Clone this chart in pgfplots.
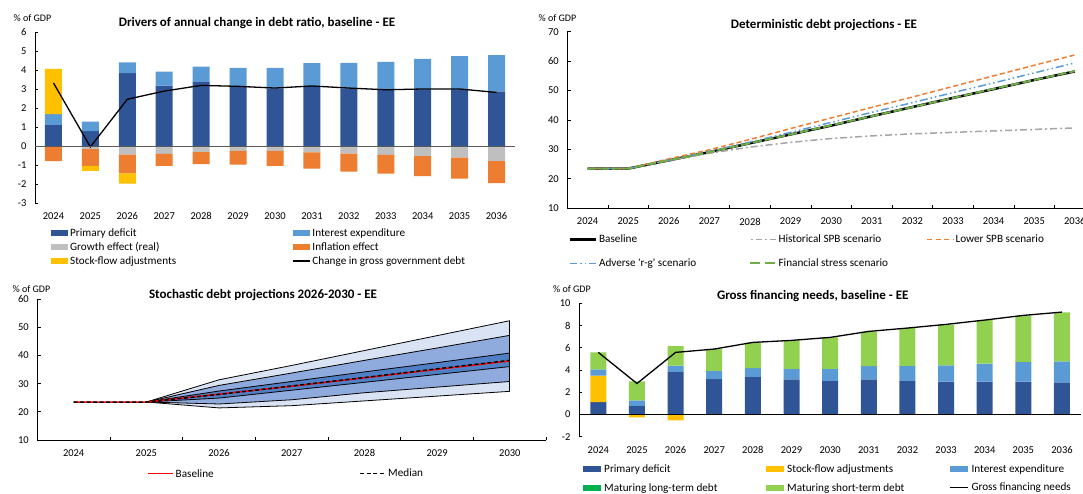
\documentclass[border=0pt]{standalone}
\usepackage{pgfplots}
\pgfplotsset{compat=1.18}
\usepgfplotslibrary{fillbetween}
\usepackage{fontspec}
\setmainfont{Carlito}

\definecolor{cPrim}{HTML}{2F5597}
\definecolor{cInt}{HTML}{5B9BD5}
\definecolor{cGrow}{HTML}{BFBFBF}
\definecolor{cInfl}{HTML}{ED7D31}
\definecolor{cSfa}{HTML}{FFC000}
\definecolor{cLong}{HTML}{00B050}
\definecolor{cShort}{HTML}{92D050}
\definecolor{cHist}{HTML}{A5A5A5}
\definecolor{cFin}{HTML}{70AD47}
\definecolor{fanA}{HTML}{DAE3F3}
\definecolor{fanB}{HTML}{8FAADC}
\definecolor{fanC}{HTML}{4F7FC4}

\newcommand{\LE}[2]{\makebox[#1][l]{\vphantom{Ag(}#2}}
\newcommand{\tickfont}{\fontsize{10.5}{12}\selectfont}
\newcommand{\legfont}{\fontsize{11.2}{13}\selectfont}
\newcommand{\titlefont}{\bfseries\fontsize{13}{15}\selectfont}

\pgfplotsset{
  base/.style={
    scale only axis, anchor=south west, axis lines*=left,
    tick label style={font=\tickfont},
    /pgf/number format/assume math mode=true,
    tick align=inside, major tick length=3pt,
    axis line style={line width=0.75pt, black},
    tick style={black, line width=0.75pt},
    yticklabel shift=5pt, xticklabel shift=6pt,
    legend cell align=left,
    legend style={draw=none, fill=none, inner sep=0pt, font=\legfont,
      nodes={inner sep=0pt}},
  },
}

\begin{document}
\begin{tikzpicture}

% ---------------- Panel 1 ----------------
\begin{axis}[base, at={(35pt,290pt)}, width=480pt, height=171pt,
  xmin=-0.5, xmax=12.5, ymin=-3, ymax=6, ytick={-3,-2,...,6},
  xtick={0,...,12},
  xticklabels={2024,2025,2026,2027,2028,2029,2030,2031,2032,2033,2034,2035,2036},
  x axis line style={draw=none}, xtick style={draw=none},
  ybar stacked, stack negative=separate, reverse stacked plots=false, bar width=17pt,
  legend columns=2,
  legend style={at={(0.0333,-0.145)}, anchor=north west, row sep=4.4pt,
    /tikz/every odd column/.append style={column sep=2pt}},
]
\addplot[fill=cPrim, draw=none, legend image code/.code={\fill[cPrim] (0pt,-3pt) rectangle (17pt,3pt);}]
  coordinates {(0,1.11)(1,0.78)(2,3.84)(3,3.18)(4,3.38)(5,3.17)(6,3.03)(7,3.15)(8,3.03)(9,2.95)(10,2.95)(11,2.95)(12,2.88)};
\addlegendentry{\LE{222pt}{Primary deficit}}
\addplot[fill=cInt, draw=none, legend image code/.code={\fill[cInt] (0pt,-3pt) rectangle (17pt,3pt);}]
  coordinates {(0,0.57)(1,0.50)(2,0.56)(3,0.74)(4,0.80)(5,0.94)(6,1.08)(7,1.21)(8,1.35)(9,1.48)(10,1.63)(11,1.78)(12,1.90)};
\addlegendentry{\LE{120pt}{Interest expenditure}}
\addplot[fill=cGrow, draw=none, legend image code/.code={\fill[cGrow] (0pt,-3pt) rectangle (17pt,3pt);}]
  coordinates {(0,0)(1,-0.17)(2,-0.46)(3,-0.42)(4,-0.32)(5,-0.25)(6,-0.26)(7,-0.33)(8,-0.40)(9,-0.47)(10,-0.53)(11,-0.61)(12,-0.79)};
\addlegendentry{\LE{222pt}{Growth effect (real)}}
\addplot[fill=cInfl, draw=none, legend image code/.code={\fill[cInfl] (0pt,-3pt) rectangle (17pt,3pt);}]
  coordinates {(0,-0.79)(1,-0.88)(2,-0.98)(3,-0.62)(4,-0.64)(5,-0.73)(6,-0.79)(7,-0.86)(8,-0.95)(9,-0.99)(10,-1.05)(11,-1.11)(12,-1.16)};
\addlegendentry{\LE{120pt}{Inflation effect}}
\addplot[fill=cSfa, draw=none, legend image code/.code={\fill[cSfa] (0pt,-3pt) rectangle (17pt,3pt);}]
  coordinates {(0,2.38)(1,-0.26)(2,-0.54)(3,0)(4,0)(5,0)(6,0)(7,0)(8,0)(9,0)(10,0)(11,0)(12,0)};
\addlegendentry{\LE{222pt}{Stock-flow adjustments}}
\addplot[sharp plot, stack plots=false, black, line width=1.3pt,
  legend image code/.code={\draw[black, line width=1.3pt] (0pt,0pt) -- (17pt,0pt);}]
  coordinates {(0,3.32)(1,-0.05)(2,2.46)(3,2.89)(4,3.19)(5,3.14)(6,3.05)(7,3.16)(8,3.05)(9,2.96)(10,3.00)(11,3.00)(12,2.82)};
\addlegendentry{\LE{160pt}{Change in gross government debt}}
\draw[black!65, line width=1pt] (axis cs:-0.5,0) -- (axis cs:12.5,0);
\end{axis}
\node[font=\titlefont] at (257pt,470pt) {Drivers of annual change in debt ratio, baseline - EE};
\node[font=\fontsize{10}{12}\selectfont] at (32.5pt,475pt) {\% of GDP};

% ---------------- Panel 2 ----------------
\begin{axis}[base, at={(567.3pt,284.7pt)}, width=527.8pt, height=176.6pt,
  xmin=-0.5, xmax=12.5, ymin=10, ymax=70, ytick={10,20,...,70},
  xtick={-0.5,0.5,...,12.5}, x tick label as interval,
  xticklabels={2024,2025,2026,2027,2028,2029,2030,2031,2032,2033,2034,2035,2036},
  major tick length=3.5pt,
  legend columns=3,
  legend style={at={(0.003,-0.147)}, anchor=north west, row sep=14.4pt,
    /tikz/every odd column/.append style={column sep=1.5pt}},
]
\addplot[sharp plot, black, line width=2.5pt,
  legend image code/.code={\draw[black, line width=2.5pt] (0pt,0pt) -- (26pt,0pt);}]
  coordinates {(0,23.5)(1,23.5)(2,26.3)(3,29.1)(4,32.1)(5,35.1)(6,38.1)(7,41.3)(8,44.4)(9,47.5)(10,50.5)(11,53.6)(12,56.5)};
\addlegendentry{\LE{150pt}{Baseline}}
\addplot[sharp plot, cHist, line width=1.5pt, dash pattern=on 7pt off 3pt on 2pt off 3pt,
  legend image code/.code={\draw[cHist, line width=1.5pt, dash pattern=on 6pt off 3pt on 2pt off 3pt, dash phase=8pt] (0pt,0pt) -- (26pt,0pt);}]
  coordinates {(0,23.5)(1,23.5)(2,26.3)(3,28.7)(4,30.8)(5,32.4)(6,33.7)(7,34.6)(8,35.3)(9,35.8)(10,36.3)(11,36.8)(12,37.3)};
\addlegendentry{\LE{148pt}{Historical SPB scenario}}
\addplot[sharp plot, cInfl, line width=1.5pt, dash pattern=on 5pt off 3pt,
  legend image code/.code={\draw[cInfl, line width=1.5pt, dash pattern=on 5pt off 3.5pt] (0pt,0pt) -- (26pt,0pt);}]
  coordinates {(0,23.5)(1,23.5)(2,26.8)(3,29.9)(4,33.4)(5,37.1)(6,40.7)(7,44.3)(8,47.8)(9,51.4)(10,55.0)(11,58.6)(12,62.1)};
\addlegendentry{Lower SPB scenario}
\addplot[sharp plot, cInt, line width=1.5pt, dash pattern=on 8pt off 3pt on 1.5pt off 3pt on 1.5pt off 3pt,
  legend image code/.code={\draw[cInt, line width=1.5pt, dash pattern=on 7pt off 3pt on 1.5pt off 3pt on 1.5pt off 3pt] (0pt,0pt) -- (26pt,0pt);}]
  coordinates {(0,23.5)(1,23.5)(2,26.3)(3,29.3)(4,32.5)(5,35.8)(6,39.2)(7,42.6)(8,45.9)(9,49.3)(10,52.6)(11,56.0)(12,59.4)};
\addlegendentry{\LE{150pt}{Adverse \textquotesingle r-g\textquotesingle\ scenario}}
\addplot[sharp plot, cFin, line width=2pt, dash pattern=on 9pt off 3pt,
  legend image code/.code={\draw[cFin, line width=2pt, dash pattern=on 10pt off 5pt] (0pt,0pt) -- (26pt,0pt);}]
  coordinates {(0,23.5)(1,23.5)(2,26.3)(3,29.1)(4,32.1)(5,35.1)(6,38.2)(7,41.3)(8,44.4)(9,47.5)(10,50.6)(11,53.6)(12,56.6)};
\addlegendentry{\LE{148pt}{Financial stress scenario}}
\end{axis}
\node[font=\titlefont] at (824pt,468pt) {Deterministic debt projections - EE};
\node[font=\fontsize{10}{12}\selectfont] at (557.5pt,475pt) {\% of GDP};

% ---------------- Panel 3 ----------------
\begin{axis}[base, set layers, at={(37.3pt,53pt)}, width=508.9pt, height=140.7pt,
  xmin=-0.5, xmax=6.5, ymin=10, ymax=60, ytick={10,20,...,60},
  xtick={-0.5,0.5,...,6.5}, x tick label as interval,
  xticklabels={2024,2025,2026,2027,2028,2029,2030},
  major tick length=3.5pt,
  legend columns=2,
  legend style={at={(0.2156,-0.204)}, anchor=north west,
    /tikz/every odd column/.append style={column sep=2pt}},
]
\addplot[name path=p1, black, line width=0.8pt, forget plot] coordinates {(1,23.5)(2,31.4)(3,36.5)(4,41.8)(5,47.1)(6,52.4)};
\addplot[name path=p2, black, line width=0.8pt, forget plot] coordinates {(1,23.5)(2,29.4)(3,33.8)(4,38.3)(5,42.7)(6,47.2)};
\addplot[name path=p3, black, line width=0.8pt, forget plot] coordinates {(1,23.5)(2,27.4)(3,30.8)(4,34.2)(5,37.5)(6,40.9)};
\addplot[name path=p4, black, line width=0.8pt, forget plot] coordinates {(1,23.5)(2,24.9)(3,27.7)(4,30.5)(5,33.3)(6,36.1)};
\addplot[name path=p5, black, line width=0.8pt, forget plot] coordinates {(1,23.5)(2,22.8)(3,24.3)(4,26.8)(5,28.8)(6,30.8)};
\addplot[name path=p6, black, line width=0.8pt, forget plot] coordinates {(1,23.5)(2,21.4)(3,22.2)(4,23.9)(5,25.6)(6,27.3)};
\addplot[fanA, forget plot] fill between[of=p1 and p6];
\addplot[fanB, forget plot] fill between[of=p2 and p5];
\addplot[fanC, forget plot] fill between[of=p3 and p4];
\draw[black, line width=0.8pt] (axis cs:6,27.3) -- (axis cs:6,52.4);
\addplot[sharp plot, red, line width=1.5pt,
  legend image code/.code={\draw[red, line width=1.5pt] (0pt,0pt) -- (25pt,0pt);}]
  coordinates {(0,23.5)(1,23.5)(2,26.3)(3,29.1)(4,32.1)(5,35.1)(6,38.1)};
\addlegendentry{\LE{184pt}{Baseline}}
\addplot[sharp plot, black, line width=1.5pt, dash pattern=on 4pt off 2.5pt,
  legend image code/.code={\draw[black, line width=1.5pt, dash pattern=on 4pt off 2.5pt] (0pt,0pt) -- (25pt,0pt);}]
  coordinates {(0,23.5)(1,23.5)(2,26.2)(3,29.2)(4,32.2)(5,35.3)(6,38.3)};
\addlegendentry{Median}
\end{axis}
\node[font=\titlefont] at (263pt,198pt) {Stochastic debt projections 2026-2030 - EE};
\node[font=\fontsize{10}{12}\selectfont] at (31.5pt,204pt) {\% of GDP};

% ---------------- Panel 4 ----------------
\begin{axis}[base, at={(579pt,56.3pt)}, width=502.3pt, height=133.3pt,
  xmin=-0.5, xmax=12.5, ymin=-2, ymax=10, ytick={-2,0,...,10},
  xtick={0,...,12},
  xticklabels={2024,2025,2026,2027,2028,2029,2030,2031,2032,2033,2034,2035,2036},
  x axis line style={draw=none}, xtick style={draw=none},
  ybar stacked, stack negative=separate, reverse stacked plots=false, bar width=16pt,
  legend columns=3,
  legend style={at={(0.008,-0.207)}, anchor=north west, row sep=8.8pt,
    /tikz/every odd column/.append style={column sep=3pt}},
]
\addplot[fill=cPrim, draw=none, legend image code/.code={\fill[cPrim] (0pt,-3pt) rectangle (18pt,3pt);}]
  coordinates {(0,1.11)(1,0.78)(2,3.84)(3,3.18)(4,3.38)(5,3.17)(6,3.03)(7,3.15)(8,3.03)(9,2.95)(10,2.95)(11,2.95)(12,2.88)};
\addlegendentry{\LE{162pt}{Primary deficit}}
\addplot[fill=cSfa, draw=none, legend image code/.code={\fill[cSfa] (0pt,-3pt) rectangle (18pt,3pt);}]
  coordinates {(0,2.38)(1,-0.26)(2,-0.54)(3,0)(4,0)(5,0)(6,0)(7,0)(8,0)(9,0)(10,0)(11,0)(12,0)};
\addlegendentry{\LE{162pt}{Stock-flow adjustments}}
\addplot[fill=cInt, draw=none, legend image code/.code={\fill[cInt] (0pt,-3pt) rectangle (18pt,3pt);}]
  coordinates {(0,0.57)(1,0.50)(2,0.56)(3,0.74)(4,0.80)(5,0.94)(6,1.08)(7,1.21)(8,1.35)(9,1.48)(10,1.63)(11,1.78)(12,1.90)};
\addlegendentry{Interest expenditure}
\addplot[fill=cLong, draw=none, legend image code/.code={\fill[cLong] (0pt,-3pt) rectangle (18pt,3pt);}]
  coordinates {(0,0)(1,0)(2,0)(3,0)(4,0)(5,0)(6,0)(7,0)(8,0)(9,0)(10,0)(11,0)(12,0)};
\addlegendentry{\LE{162pt}{Maturing long-term debt}}
\addplot[fill=cShort, draw=none, legend image code/.code={\fill[cShort] (0pt,-3pt) rectangle (18pt,3pt);}]
  coordinates {(0,1.54)(1,1.71)(2,1.75)(3,1.96)(4,2.29)(5,2.56)(6,2.83)(7,3.10)(8,3.40)(9,3.67)(10,3.91)(11,4.18)(12,4.42)};
\addlegendentry{\LE{162pt}{Maturing short-term debt}}
\addplot[sharp plot, stack plots=false, black, line width=1.3pt,
  legend image code/.code={\draw[black, line width=1.3pt] (0pt,0pt) -- (18pt,0pt);}]
  coordinates {(0,5.59)(1,2.79)(2,5.59)(3,5.89)(4,6.49)(5,6.67)(6,6.94)(7,7.48)(8,7.78)(9,8.11)(10,8.50)(11,8.92)(12,9.22)};
\addlegendentry{Gross financing needs}
\draw[black, line width=0.9pt] (axis cs:-0.5,0) -- (axis cs:12.5,0);
\end{axis}
\node[font=\titlefont] at (812.7pt,197.3pt) {Gross financing needs, baseline - EE};
\node[font=\fontsize{10}{12}\selectfont] at (572pt,203.7pt) {\% of GDP};

\pgfresetboundingbox
\path[use as bounding box] (0pt,0pt) rectangle (1083pt,493pt);
\end{tikzpicture}
\end{document}
